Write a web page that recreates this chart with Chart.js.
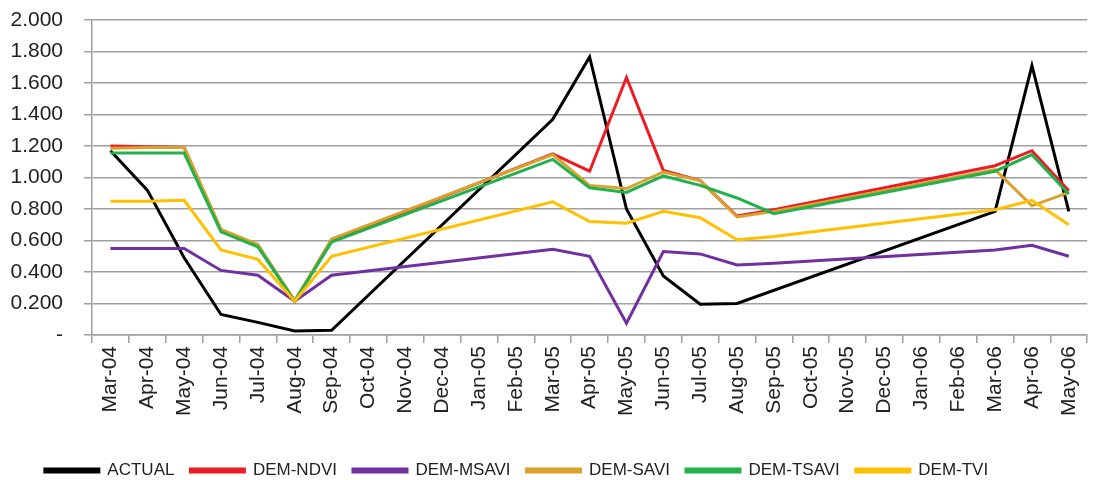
<!DOCTYPE html>
<html>
<head>
<meta charset="utf-8">
<script src="https://cdn.jsdelivr.net/npm/chart.js@4.4.1/dist/chart.umd.min.js"></script>
<style>
  html, body { margin: 0; padding: 0; background: #fff; overflow: hidden; }
  #wrap { width: 1097px; height: 489px; position: relative; }
</style>
</head>
<body>
<div id="wrap"><canvas id="demChart"></canvas></div>
<script>
// Monthly values, Mar-04 .. May-06 (null = no value, line spans the gap)
const months = ['Mar-04', 'Apr-04', 'May-04', 'Jun-04', 'Jul-04', 'Aug-04', 'Sep-04', 'Oct-04', 'Nov-04',
    'Dec-04', 'Jan-05', 'Feb-05', 'Mar-05', 'Apr-05', 'May-05', 'Jun-05', 'Jul-05', 'Aug-05', 'Sep-05',
    'Oct-05', 'Nov-05', 'Dec-05', 'Jan-06', 'Feb-06', 'Mar-06', 'Apr-06', 'May-06'];

const actual = [1.17, 0.92, 0.49, 0.13, 0.08, 0.025, 0.03, null, null, null, null, null,
    1.37, 1.765, 0.80, 0.375, 0.195, 0.20, null, null, null, null, null, null, 0.785, 1.71, 0.785];
const demNdvi = [1.20, 1.195, 1.19, 0.665, 0.57, 0.215, 0.60, null, null, null, null, null,
    1.15, 1.04, 1.635, 1.045, 0.98, 0.755, 0.795, null, null, null, null, null, 1.075, 1.17, 0.915];
const demMsavi = [0.55, 0.55, 0.55, 0.41, 0.38, 0.215, 0.38, null, null, null, null, null,
    0.545, 0.50, 0.075, 0.53, 0.515, 0.445, 0.455, null, null, null, null, null, 0.54, 0.57, 0.50];
const demSavi = [1.185, 1.19, 1.19, 0.67, 0.575, 0.215, 0.61, null, null, null, null, null,
    1.145, 0.95, 0.93, 1.035, 0.98, 0.75, 0.785, null, null, null, null, null, 1.05, 0.82, 0.905];
const demTsavi = [1.155, 1.155, 1.155, 0.655, 0.56, 0.215, 0.59, null, null, null, null, null,
    1.115, 0.935, 0.905, 1.01, 0.95, 0.87, 0.77, null, null, null, null, null, 1.04, 1.145, 0.895];
const demTvi = [0.85, 0.85, 0.855, 0.54, 0.48, 0.215, 0.50, null, null, null, null, null,
    0.845, 0.72, 0.71, 0.785, 0.745, 0.605, 0.625, null, null, null, null, null, 0.795, 0.855, 0.70];

const yTickLabels = ['-', '0.200', '0.400', '0.600', '0.800', '1.000', '1.200', '1.400', '1.600', '1.800', '2.000'];

const font = 'Liberation Sans, Arial, sans-serif';
const gridColor = '#a0a0a0';

function series(label, data, color, order) {
    return {
        label: label,
        data: data,
        borderColor: color,
        backgroundColor: color,
        borderWidth: 3,
        pointRadius: 0,
        tension: 0,
        spanGaps: true,
        order: order
    };
}

// nudge legend left, it sits off-centre in the original
const legendShift = {
    id: 'legendShift',
    afterLayout(chart) {
        chart.legend.left -= 32;
        chart.legend.right -= 32;
    }
};

const ctx = document.getElementById('demChart').getContext('2d');
new Chart(ctx, {
    type: 'line',
    data: {
        labels: months,
        datasets: [
            series('ACTUAL', actual, '#000000', 6),
            series('DEM-NDVI', demNdvi, '#ED1C24', 5),
            series('DEM-MSAVI', demMsavi, '#7030A0', 4),
            series('DEM-SAVI', demSavi, '#DAA22C', 3),
            series('DEM-TSAVI', demTsavi, '#22B14C', 2),
            series('DEM-TVI', demTvi, '#FFC000', 1)
        ]
    },
    plugins: [legendShift],
    options: {
        responsive: true,
        maintainAspectRatio: false,
        animation: false,
        layout: { padding: { top: 20, left: 0, right: 0, bottom: 0 } },
        plugins: {
            tooltip: { enabled: false },
            legend: {
                position: 'bottom',
                labels: {
                    boxWidth: 54,
                    boxHeight: 3,
                    padding: 16,
                    color: '#222',
                    font: { family: font, size: 17 },
                    sort: (a, b) => a.datasetIndex - b.datasetIndex
                }
            }
        },
        scales: {
            x: {
                type: 'category',
                offset: true,
                afterFit(s) { s.height = 111; },
                grid: { offset: true, drawOnChartArea: false, tickLength: 8, color: gridColor, lineWidth: 1.5 },
                border: { color: gridColor, width: 1.5 },
                ticks: {
                    autoSkip: false,
                    minRotation: 90,
                    maxRotation: 90,
                    padding: 3,
                    color: '#222',
                    font: { family: font, size: 21 }
                }
            },
            y: {
                min: 0,
                max: 2,
                afterFit(s) {
                    s.width = 92;
                    s.paddingTop = 0;
                    s.paddingBottom = 0;
                },
                grid: { tickLength: 8, color: gridColor, lineWidth: 1.5 },
                border: { color: gridColor, width: 1.5 },
                ticks: {
                    stepSize: 0.2,
                    padding: 21,
                    color: '#222',
                    font: { family: font, size: 21 },
                    callback: (v, i) => yTickLabels[i]
                }
            }
        }
    }
});
</script>
</body>
</html>
